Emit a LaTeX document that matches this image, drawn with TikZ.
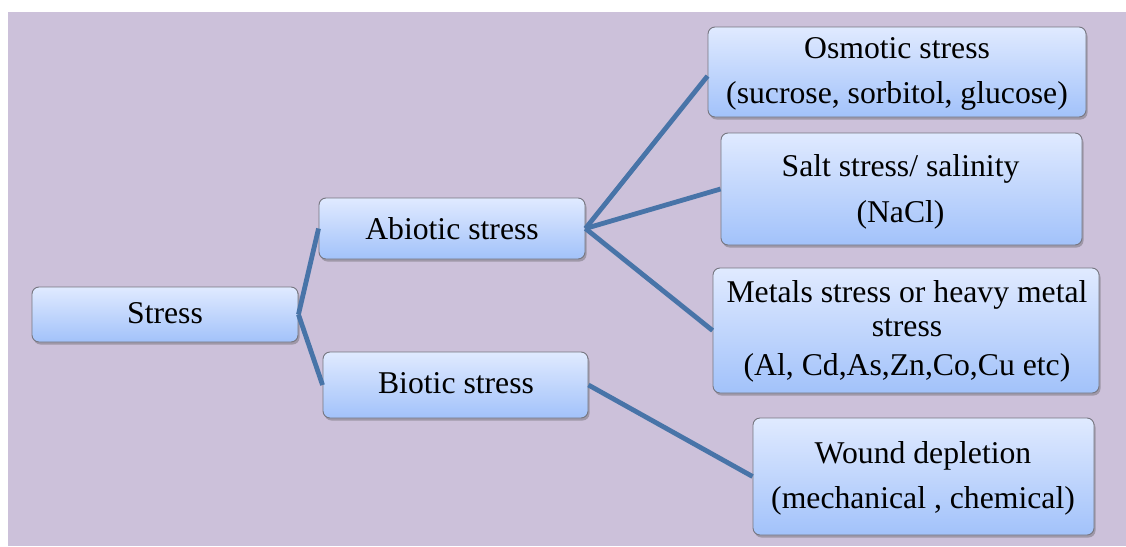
\documentclass[tikz,border=0pt]{standalone}
\usepackage{fontspec}
\setmainfont{Liberation Serif}
\usetikzlibrary{shadows}
\definecolor{bgcol}{RGB}{204,193,218}
\definecolor{linecol}{RGB}{72,116,168}
\definecolor{boxtop}{RGB}{224,234,255}
\definecolor{boxbot}{RGB}{162,194,250}
\definecolor{boxdraw}{RGB}{118,118,128}
\tikzset{
  box/.style={draw=boxdraw, line width=0.9pt, rounded corners=7pt,
    top color=boxtop, bottom color=boxbot, inner sep=0pt,
    drop shadow={shadow xshift=1.5pt, shadow yshift=-2.5pt, opacity=0.35, fill=black!70}},
  txt/.style={anchor=base, inner sep=0pt, font=\fontsize{31.7}{34}\selectfont},
  conn/.style={draw=linecol, line width=4.8pt}
}
\begin{document}
\begin{tikzpicture}[x=1pt,y=-1pt]
\useasboundingbox (0,0) rectangle (1126,546);
\fill[bgcol] (8,12) rectangle (1126,546);
% boxes
\node[box, minimum width=266pt, minimum height=55pt] (stress) at (165,314.5) {};
\node[box, minimum width=266pt, minimum height=61pt] (abio) at (452,228.5) {};
\node[box, minimum width=265pt, minimum height=66pt] (bio) at (455.5,385) {};
\node[box, minimum width=378pt, minimum height=90pt] (osm) at (897,72) {};
\node[box, minimum width=361pt, minimum height=112pt] (salt) at (901.5,189) {};
\node[box, minimum width=386pt, minimum height=125pt] (metal) at (906,330.5) {};
\node[box, minimum width=341pt, minimum height=117pt] (wound) at (923.5,476.5) {};
% connectors
\draw[conn] (stress.east) -- (abio.west);
\draw[conn] (stress.east) -- (bio.west);
\draw[conn] (abio.east) -- ([yshift=-4pt]osm.west);
\draw[conn] (abio.east) -- (salt.west);
\draw[conn] (abio.east) -- (metal.west);
\draw[conn] (bio.east) -- (wound.west);
% texts
\node[txt] (tstress) at (165,323) {Stress};
\node[txt] (tabio) at (452,239) {Abiotic stress};
\node[txt] (tbio) at (456,393) {Biotic stress};
\node[txt] (tosm1) at (897,58) {Osmotic stress};
\node[txt] (tosm2) at (897,103) {(sucrose, sorbitol, glucose)};
\node[txt] (tsalt1) at (900.5,176) {Salt stress/ salinity};
\node[txt] (tsalt2) at (900.5,222) {(NaCl)};
\node[txt] (tmet1) at (907,302) {Metals stress or heavy metal};
\node[txt] (tmet2) at (907,336) {stress};
\node[txt] (tmet3) at (907,375) {(Al, Cd,As,Zn,Co,Cu etc)};
\node[txt] (twnd1) at (923,463) {Wound depletion};
\node[txt] (twnd2) at (923,508) {(mechanical , chemical)};
\end{tikzpicture}
\end{document}
